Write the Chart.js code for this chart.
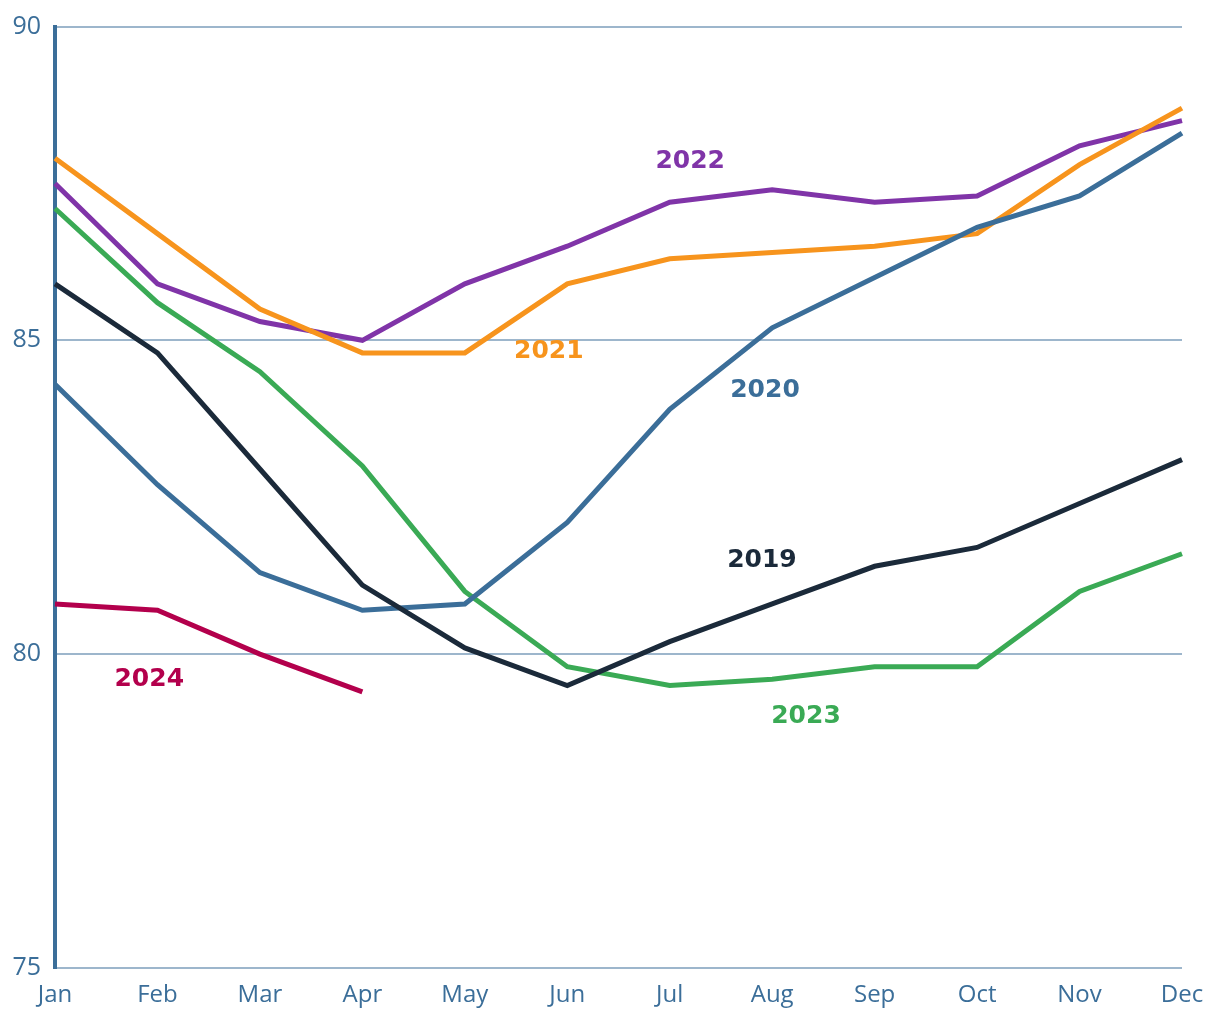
<!DOCTYPE html>
<html>
<head>
<meta charset="utf-8">
<script src="https://cdn.jsdelivr.net/npm/chart.js@4/dist/chart.umd.min.js"></script>
<style>
  html, body { margin: 0; padding: 0; background: #fff; }
  #wrap { width: 1220px; height: 1020px; }
</style>
</head>
<body>
<div id="wrap"><canvas id="chart" width="1220" height="1020"></canvas></div>
<script>
const months = ['Jan', 'Feb', 'Mar', 'Apr', 'May', 'Jun', 'Jul', 'Aug', 'Sep', 'Oct', 'Nov', 'Dec'];

const y2019 = [85.9, 84.8, 82.95, 81.1, 80.1, 79.5, 80.2, 80.8, 81.4, 81.7, 82.4, 83.1];
const y2020 = [84.3, 82.7, 81.3, 80.7, 80.8, 82.1, 83.9, 85.2, 86.0, 86.8, 87.3, 88.3];
const y2021 = [87.9, 86.7, 85.5, 84.8, 84.8, 85.9, 86.3, 86.4, 86.5, 86.7, 87.8, 88.7];
const y2022 = [87.5, 85.9, 85.3, 85.0, 85.9, 86.5, 87.2, 87.4, 87.2, 87.3, 88.1, 88.5];
const y2023 = [87.1, 85.6, 84.5, 83.0, 81.0, 79.8, 79.5, 79.6, 79.8, 79.8, 81.0, 81.6];
const y2024 = [80.8, 80.7, 80.0, 79.4];

const yTicks = [75, 80, 85, 90];

// series labels placed in data space: [month index, value]
const seriesLabels = [
  { text: '2022', x: 6.2, y: 87.85, color: '#8034a8' },
  { text: '2021', x: 4.82, y: 84.82, color: '#f7941d' },
  { text: '2020', x: 6.93, y: 84.2, color: '#3b6e99' },
  { text: '2019', x: 6.9, y: 81.5, color: '#1b2a3a' },
  { text: '2023', x: 7.33, y: 79.0, color: '#3aaa55' },
  { text: '2024', x: 0.92, y: 79.6, color: '#b3004c' }
];

const axisBlue = '#3b6e99';
const gridBlue = '#9db6cc';

function ds(label, data, color) {
  return { label: label, data: data, borderColor: color, backgroundColor: color,
    borderWidth: 5, pointRadius: 0, tension: 0, fill: false };
}

const labelPlugin = {
  id: 'seriesLabels',
  afterDatasetsDraw(chart) {
    const ctx = chart.ctx;
    const xs = chart.scales.x, ys = chart.scales.y;
    ctx.save();
    ctx.font = 'bold 25px "DejaVu Sans", sans-serif';
    ctx.textAlign = 'center';
    ctx.textBaseline = 'middle';
    seriesLabels.forEach(l => {
      ctx.fillStyle = l.color;
      ctx.fillText(l.text, xs.getPixelForValue(l.x), ys.getPixelForValue(l.y));
    });
    ctx.restore();
  }
};

new Chart(document.getElementById('chart').getContext('2d'), {
  type: 'line',
  data: {
    labels: months,
    datasets: [
      ds('2019', y2019, '#1b2a3a'),
      ds('2020', y2020, '#3b6e99'),
      ds('2021', y2021, '#f7941d'),
      ds('2022', y2022, '#8034a8'),
      ds('2023', y2023, '#3aaa55'),
      ds('2024', y2024, '#b3004c')
    ]
  },
  options: {
    responsive: false,
    animation: false,
    layout: { padding: { top: 25, right: 38, left: 0, bottom: 0 } },
    plugins: { legend: { display: false }, tooltip: { enabled: false } },
    scales: {
      x: {
        type: 'category',
        offset: false,
        grid: { display: false },
        border: { display: false },
        ticks: { color: axisBlue, font: { family: '"Open Sans", sans-serif', size: 24 }, padding: 5, maxRotation: 0, autoSkip: false },
        afterFit(scale) { scale.height = 52; }
      },
      y: {
        min: 75, max: 90,
        afterBuildTicks(scale) { scale.ticks = yTicks.map(v => ({ value: v })); },
        grid: { color: gridBlue, lineWidth: 2, drawTicks: false },
        border: { display: true, color: axisBlue, width: 4 },
        ticks: { color: axisBlue, font: { family: '"Open Sans", sans-serif', size: 25, lineHeight: 1 }, padding: 14 },
        afterFit(scale) { scale.width = 55; }
      }
    }
  },
  plugins: [labelPlugin]
});
</script>
</body>
</html>
